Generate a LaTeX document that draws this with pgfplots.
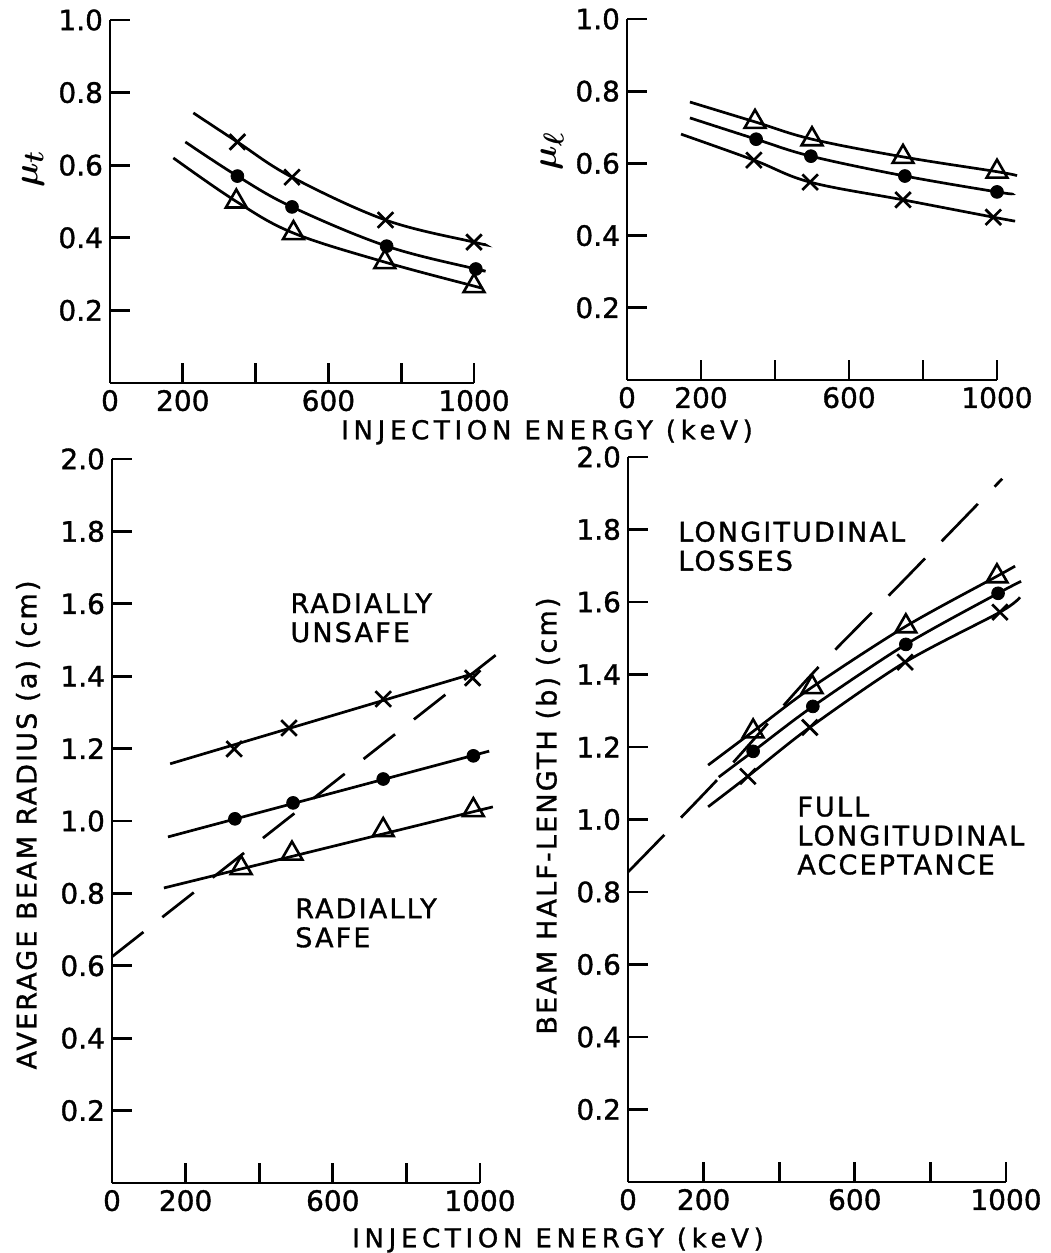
\documentclass[border=0pt]{standalone}
\usepackage{fontspec}
\setmainfont{DejaVu Sans}
\usepackage{pgfplots}
\pgfplotsset{compat=1.18}

% lettering used for tick numbers, axis titles and region notes
\newfontfamily\digits[FakeBold=1.2]{DejaVu Sans}
\newfontfamily\lettering[LetterSpace=8, FakeBold=1.2]{DejaVu Sans}
\newfontfamily\wideletters[LetterSpace=18, FakeBold=1.2]{DejaVu Sans}
\newcommand\ticks{\digits\fontsize{14}{16}\selectfont}
\newcommand\notes{\lettering\fontsize{13.5}{14.5}\selectfont}

\pgfplotsset{
  panel/.style={
    scale only axis,
    anchor=south west,
    axis x line=bottom, axis y line=left,
    axis line style={-, line width=1.4pt},
    tick align=inside,
    major tick length=10pt,
    tick style={line width=1.4pt, black},
    xmin=0, xmax=1000,
    xtick={0,200,400,600,800,1000},
    xticklabels={0,200,,600,,1000},
    ymin=0,
    clip=false,
    /pgf/number format/assume math mode=true,
    ticklabel style={font=\ticks},
    yticklabel style={/pgf/number format/.cd, fixed, fixed zerofill, precision=1},
  },
  curve/.style={black, line width=1.35pt, no markers},
  boundary/.style={black, line width=1.35pt, no markers, dash pattern=on 20pt off 12pt},
  xmk/.style={black, only marks, mark=x, mark size=5.5pt, mark options={line width=1.35pt}},
  dotmk/.style={black, only marks, mark=*, mark size=3.2pt},
  trimk/.style={black, only marks, mark=triangle, mark size=6pt, mark options={fill=white, line width=1.3pt}},
}

\begin{document}
\begin{tikzpicture}
\useasboundingbox (0,0) rectangle (525pt,626.5pt);

% ---------------- transverse mu ----------------
\begin{axis}[panel, at={(55pt,435pt)}, width=182pt, height=181.5pt,
  ymax=1, ytick={0.2,0.4,0.6,0.8,1.0}]
  \addplot [curve, smooth, tension=0.6] coordinates {(229,0.744) (350,0.664) (500,0.567) (757,0.449) (1000,0.388) (1028,0.382)};
  \addplot [curve, smooth, tension=0.6] coordinates {(207,0.664) (350,0.570) (500,0.485) (760,0.377) (1005,0.314) (1025,0.310)};
  \addplot [curve, smooth, tension=0.6] coordinates {(174,0.620) (347,0.500) (504,0.413) (755,0.333) (1000,0.267) (1008,0.265)};
  \addplot [xmk] coordinates {(350,0.664) (500,0.567) (757,0.449) (1000,0.388)};
  \addplot [dotmk] coordinates {(350,0.570) (500,0.485) (760,0.377) (1005,0.314)};
  \addplot [trimk] coordinates {(347,0.500) (504,0.413) (755,0.333) (1000,0.267)};
\end{axis}

% ---------------- longitudinal mu ----------------
\begin{axis}[panel, at={(313.5pt,436.5pt)}, width=185pt, height=180.5pt,
  ymax=1, ytick={0.2,0.4,0.6,0.8,1.0}]
  \addplot [curve, smooth, tension=0.6] coordinates {(170,0.770) (346,0.715) (500,0.667) (746,0.618) (1000,0.577) (1054,0.566)};
  \addplot [curve, smooth, tension=0.6] coordinates {(170,0.726) (349,0.667) (497,0.620) (751,0.565) (1000,0.521) (1040,0.516)};
  \addplot [curve, smooth, tension=0.6] coordinates {(146,0.681) (343,0.609) (495,0.548) (746,0.499) (990,0.451) (1049,0.440)};
  \addplot [trimk] coordinates {(346,0.715) (500,0.667) (746,0.618) (1000,0.577)};
  \addplot [dotmk] coordinates {(349,0.667) (497,0.620) (751,0.565) (1000,0.521)};
  \addplot [xmk] coordinates {(343,0.609) (495,0.548) (746,0.499) (990,0.451)};
\end{axis}

% ---------------- average beam radius ----------------
\begin{axis}[panel, at={(56pt,35pt)}, width=184pt, height=362pt,
  ymax=2, ytick={0.2,0.4,0.6,0.8,1.0,1.2,1.4,1.6,1.8,2.0}]
  \addplot [boundary] coordinates {(0,0.625) (1090,1.496)};
  \addplot [curve] coordinates {(158,1.158) (985,1.408)};
  \addplot [curve] coordinates {(152,0.956) (1025,1.193)};
  \addplot [curve] coordinates {(141,0.815) (1035,1.039)};
  \addplot [xmk] coordinates {(332,1.199) (481,1.257) (737,1.337) (980,1.395)};
  \addplot [dotmk] coordinates {(334,1.006) (492,1.050) (737,1.116) (982,1.180)};
  \addplot [trimk] coordinates {(351,0.870) (489,0.910) (737,0.975) (982,1.030)};
  \node [font=\notes, align=left, anchor=north west, inner sep=0pt] at (axis cs:484,1.63) {RADIALLY\\UNSAFE};
  \node [font=\notes, align=left, anchor=north west, inner sep=0pt] at (axis cs:497,0.787) {RADIALLY\\SAFE};
\end{axis}

% ---------------- beam half-length ----------------
\begin{axis}[panel, at={(314pt,35.5pt)}, width=189pt, height=362.5pt,
  ymax=2, ytick={0.2,0.4,0.6,0.8,1.0,1.2,1.4,1.6,1.8,2.0}]
  \addplot [boundary, dash pattern=on 26pt off 12pt, smooth] coordinates {(0,0.855) (250,1.125) (490,1.405) (725,1.655) (990,1.940)};
  \addplot [curve, smooth, tension=0.5] coordinates {(212,1.150) (331,1.243) (487,1.365) (735,1.533) (976,1.671) (1024,1.699)};
  \addplot [curve, smooth, tension=0.5] coordinates {(240,1.117) (331,1.188) (489,1.312) (735,1.483) (979,1.624) (1040,1.657)};
  \addplot [curve, smooth, tension=0.5] coordinates {(212,1.035) (317,1.119) (481,1.254) (733,1.434) (984,1.572) (1037,1.613)};
  \addplot [trimk] coordinates {(331,1.243) (487,1.365) (735,1.533) (976,1.671)};
  \addplot [dotmk] coordinates {(331,1.188) (489,1.312) (735,1.483) (979,1.624)};
  \addplot [xmk] coordinates {(317,1.119) (481,1.254) (733,1.434) (984,1.572)};
  \node [font=\notes, align=left, anchor=north west, inner sep=0pt] at (axis cs:132,1.823) {LONGITUDINAL\\LOSSES};
  \node [font=\notes, align=left, anchor=north west, inner sep=0pt] at (axis cs:447,1.064) {FULL\\LONGITUDINAL\\ACCEPTANCE};
\end{axis}

% shared axis titles
\node [font=\wideletters\fontsize{13}{15}\selectfont] at (273.5pt,410.5pt) {INJECTION ENERGY (keV)};
\node [font=\wideletters\fontsize{13}{15}\selectfont] at (279pt,6.5pt) {INJECTION ENERGY (keV)};
\node [rotate=90, font=\boldmath\fontsize{19}{21}\selectfont] at (16.5pt,542pt) {$\mu_t$};
\node [rotate=90, font=\boldmath\fontsize{19}{21}\selectfont] at (276pt,551pt) {$\mu_\ell$};
\node [rotate=90, font=\notes] at (14pt,214pt) {AVERAGE BEAM RADIUS (a) (cm)};
\node [rotate=90, font=\notes] at (274pt,218.5pt) {BEAM HALF-LENGTH (b) (cm)};
\end{tikzpicture}
\end{document}
